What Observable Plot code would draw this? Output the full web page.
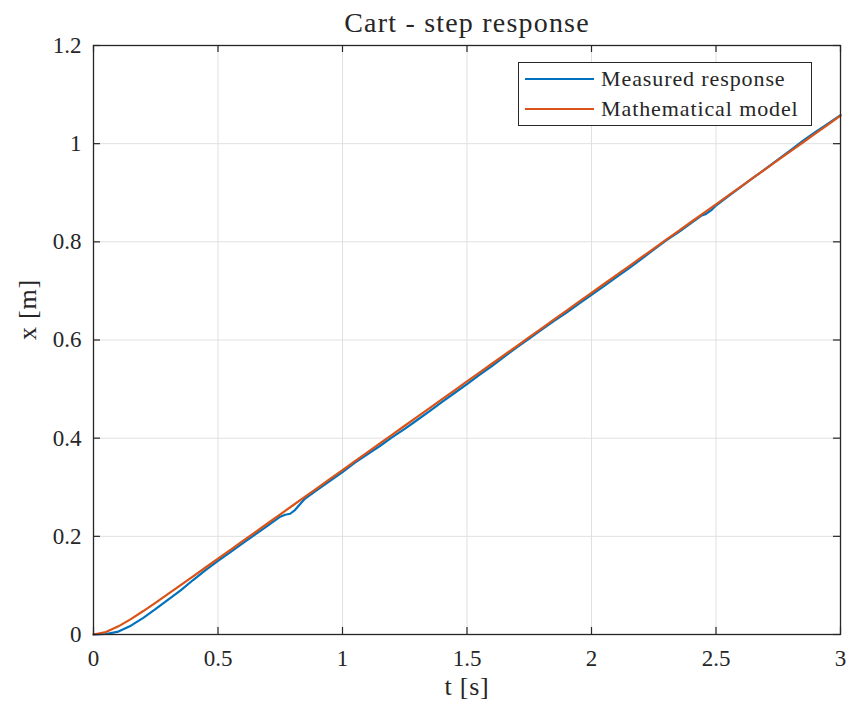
<!DOCTYPE html>
<html>
<head>
<meta charset="utf-8">
<script src="https://cdn.jsdelivr.net/npm/d3@7"></script>
<script src="https://cdn.jsdelivr.net/npm/@observablehq/plot@0.6"></script>
<style>
  body { margin: 0; background: #fff; }
  #wrap { position: relative; width: 851px; height: 713px; font-family: "Liberation Serif", "DejaVu Serif", serif; }
  #wrap svg text { font-family: "Liberation Serif", "DejaVu Serif", serif; }
  #legend { position: absolute; left: 518px; top: 62px; width: 294px; height: 64px; border: 1px solid #262626; background: #fff; box-sizing: border-box; font-size: 22px; letter-spacing: 0.9px; color: #262626; }
  .row { position: absolute; left: 6px; height: 26px; display: flex; align-items: center; white-space: nowrap; }
  .sw { width: 69px; height: 2.2px; margin-right: 7px; }
</style>
</head>
<body>
<div id="wrap"><div id="legend"></div></div>
<script>
const title = "Cart - step response";
const xLabel = "t [s]";
const yLabel = "x [m]";
const seriesNames = ["Measured response", "Mathematical model"];
const seriesColors = ["#0072BD", "#D95319"];
const xTicks = [0, 0.5, 1, 1.5, 2, 2.5, 3];
const yTicks = [0, 0.2, 0.4, 0.6, 0.8, 1, 1.2];

const tModel = [0,0.05,0.1,0.15,0.2,0.25,0.3,0.35,0.4,0.45,0.5,0.55,0.6,0.65,0.7,0.75,0.8,0.85,0.9,0.95,1.0,1.05,1.1,1.15,1.2,1.25,1.3,1.35,1.4,1.45,1.5,1.55,1.6,1.65,1.7,1.75,1.8,1.85,1.9,1.95,2.0,2.05,2.1,2.15,2.2,2.25,2.3,2.35,2.4,2.45,2.5,2.55,2.6,2.65,2.7,2.75,2.8,2.85,2.9,2.95,3.0];
const xModel = [0,0.0051,0.0166,0.0314,0.0478,0.0651,0.0827,0.1006,0.1185,0.1365,0.1545,0.1726,0.1906,0.2087,0.2267,0.2448,0.2628,0.2809,0.2989,0.3170,0.3350,0.3531,0.3711,0.3892,0.4072,0.4253,0.4433,0.4614,0.4794,0.4975,0.5155,0.5336,0.5516,0.5697,0.5877,0.6058,0.6238,0.6419,0.6599,0.6780,0.6960,0.7141,0.7321,0.7502,0.7682,0.7863,0.8043,0.8224,0.8404,0.8585,0.8765,0.8946,0.9126,0.9307,0.9487,0.9668,0.9848,1.0029,1.0209,1.0390,1.0570];

const tMeas = [0,0.05,0.1,0.15,0.2,0.25,0.3,0.35,0.4,0.45,0.5,0.55,0.6,0.65,0.7,0.75,0.77,0.79,0.81,0.83,0.85,0.9,0.95,1.0,1.05,1.1,1.15,1.2,1.25,1.3,1.35,1.4,1.45,1.5,1.55,1.6,1.65,1.7,1.75,1.8,1.85,1.9,1.95,2.0,2.05,2.1,2.15,2.2,2.25,2.3,2.35,2.4,2.44,2.46,2.48,2.5,2.55,2.6,2.65,2.7,2.75,2.8,2.85,2.9,2.95,3.0];
const xMeas = [0,0.001,0.006,0.018,0.034,0.052,0.071,0.090,0.111,0.131,0.150,0.168,0.186,0.204,0.222,0.240,0.244,0.246,0.254,0.266,0.277,0.295,0.313,0.331,0.350,0.367,0.384,0.402,0.419,0.437,0.455,0.474,0.492,0.510,0.529,0.547,0.566,0.585,0.603,0.621,0.639,0.656,0.674,0.692,0.710,0.728,0.746,0.765,0.784,0.803,0.820,0.838,0.853,0.857,0.864,0.874,0.893,0.912,0.931,0.949,0.968,0.987,1.006,1.024,1.041,1.058];

const meas = tMeas.map((t, i) => ({t, x: xMeas[i]}));
const model = tModel.map((t, i) => ({t, x: xModel[i]}));

const W = 851, H = 713;
const mL = 93, mR = 11, mT = 45, mB = 79;
const fw = W - mL - mR, fh = H - mT - mB;
const tick = 7;
const ink = "#262626";
const serif = "'Liberation Serif', 'DejaVu Serif', serif";

const fmt = d => String(d);

const chart = Plot.plot({
  width: W, height: H,
  marginLeft: mL, marginRight: mR, marginTop: mT, marginBottom: mB,
  style: {fontFamily: serif, fontSize: "23px", color: ink, background: "#fff"},
  x: {domain: [0, 3], ticks: xTicks, tickFormat: fmt, label: null},
  y: {domain: [0, 1.2], ticks: yTicks, tickFormat: fmt, label: null},
  marks: [
    Plot.gridX(xTicks, {stroke: "#e0e0e0", strokeOpacity: 1}),
    Plot.gridY(yTicks, {stroke: "#e0e0e0", strokeOpacity: 1}),
    Plot.line(meas, {x: "t", y: "x", stroke: seriesColors[0], strokeWidth: 2.2}),
    Plot.line(model, {x: "t", y: "x", stroke: seriesColors[1], strokeWidth: 2.2}),
    Plot.frame({stroke: ink, strokeWidth: 1.3}),
    Plot.tickX(xTicks, {x: d => d, insetTop: fh - tick, stroke: ink, strokeWidth: 1.2}),
    Plot.tickX(xTicks, {x: d => d, insetBottom: fh - tick, stroke: ink, strokeWidth: 1.2}),
    Plot.tickY(yTicks, {y: d => d, insetRight: fw - tick, stroke: ink, strokeWidth: 1.2}),
    Plot.tickY(yTicks, {y: d => d, insetLeft: fw - tick, stroke: ink, strokeWidth: 1.2}),
    Plot.axisX(xTicks, {tickSize: 0, tickPadding: 15, tickFormat: fmt, fontSize: 23, fontFamily: serif, fill: ink, label: null}),
    Plot.axisY(yTicks, {tickSize: 0, tickPadding: 12, tickFormat: fmt, fontSize: 23, fontFamily: serif, fill: ink, label: null}),
    Plot.text([xLabel], {frameAnchor: "bottom", dy: 60, text: d => d, fontSize: 26, fontFamily: serif, fill: ink}),
    Plot.text([yLabel], {frameAnchor: "left", dx: -66, rotate: -90, text: d => d, fontSize: 26, fontFamily: serif, fill: ink}),
    Plot.text([title], {frameAnchor: "top", dy: -33, text: d => d, fontSize: 28, fontFamily: serif, fill: ink})
  ]
});
d3.select(chart).selectAll("text").each(function() {
  const s = this.textContent;
  if (s === title) this.style.letterSpacing = "1.2px";
  else if (s === xLabel || s === yLabel) this.style.letterSpacing = "0.8px";
});

const wrap = document.getElementById("wrap");
wrap.insertBefore(chart, wrap.firstChild);

const legend = document.getElementById("legend");
seriesNames.forEach((name, i) => {
  const row = document.createElement("div");
  row.className = "row";
  row.style.top = (3 + i * 30) + "px";
  const sw = document.createElement("span");
  sw.className = "sw";
  sw.style.background = seriesColors[i];
  const tx = document.createElement("span");
  tx.textContent = name;
  row.appendChild(sw); row.appendChild(tx);
  legend.appendChild(row);
});
</script>
</body>
</html>
